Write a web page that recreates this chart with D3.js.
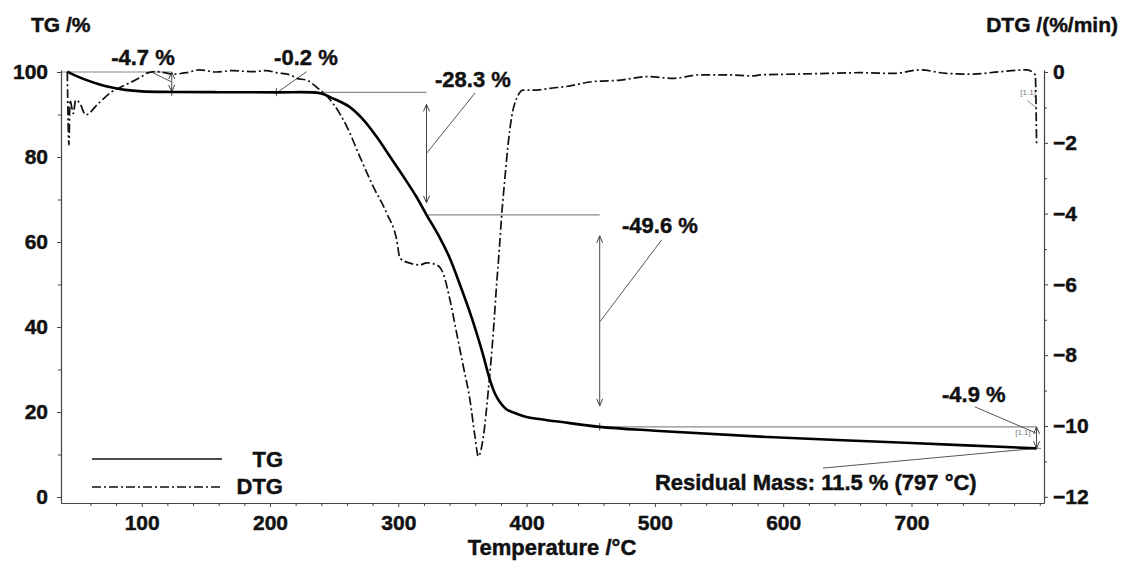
<!DOCTYPE html>
<html>
<head>
<meta charset="utf-8">
<script src="https://cdn.jsdelivr.net/npm/d3@7"></script>
<style>
  html, body { margin: 0; padding: 0; background: #fff; }
  svg text { font-family: "Liberation Sans", Arial, Helvetica, sans-serif !important; font-weight: 700 !important;
    stroke: #111; stroke-width: 0.45px; }
  svg text.thin { font-weight: 400 !important; stroke: none; }
</style>
</head>
<body>
<div id="chart"></div>
<script>
// ─── Data ─────────────────────────────────────────────────────────────────────
const tgTemp = [42, 48, 56, 66, 76, 87, 100, 123, 160, 205, 239, 249, 262, 273, 283, 293.5, 304, 314, 322, 332, 340,
  348, 357, 365, 371.5, 375.4, 379.3, 384.5, 392.3, 400, 426, 457, 500, 582, 700, 797.5];
const tgMass = [100.1, 99.2, 98.2, 97.2, 96.4, 95.8, 95.45, 95.3, 95.25, 95.2, 95.0, 93.8, 91.8, 88.7, 84.8, 80.1, 75.4, 70.7, 66.4, 61.2, 56.3,
  50.0, 42.4, 34.6, 27.5, 24.3, 22.3, 20.6, 19.6, 18.8, 17.7, 16.5, 15.6, 14.2, 12.7, 11.45];

const dtgTemp = [42, 43.3, 44.1, 45.5, 46.7, 48.5, 51.9, 56.3, 66.2, 76.6, 87, 100, 104, 111.7, 118, 124.4, 135, 145, 158, 171,
  180, 187, 197, 205, 215.6, 220.8, 228.6, 236.4, 249, 260, 270, 280.5, 291, 298.8, 301.3, 309, 317, 322, 330, 335, 340.3,
  345.5, 350.7, 355.9, 359.8, 362.4, 366.3, 370.2, 374, 376.7, 378.7, 380.6, 383.2, 385.7, 388.4, 392.3, 397.4, 407.9, 418,
  431, 452, 473, 494, 514, 535, 556, 577, 582, 608, 634, 660, 686, 707, 727, 748, 769, 790, 796.5, 797.5];
const dtgRate = [0.0, -2.06, -0.79, -1.0, -1.17, -0.79, -0.89, -1.21, -0.89, -0.56, -0.37, -0.13, -0.03, 0.01, -0.02, -0.06, -0.02, 0.06, 0.0, 0.04,
  0.02, 0.01, 0.04, -0.02, -0.08, -0.18, -0.23, -0.43, -0.88, -1.55, -2.39, -3.24, -3.99, -4.75, -5.26, -5.40, -5.45, -5.39, -5.45, -5.69, -6.44,
  -7.38, -8.32, -9.27, -10.3, -10.86, -10.3, -8.98, -7.38, -5.97, -5.03, -4.04, -2.96, -2.01, -1.26, -0.74, -0.51, -0.51, -0.46,
  -0.41, -0.27, -0.23, -0.13, -0.18, -0.08, -0.08, -0.11, -0.08, -0.06, -0.04, -0.02, -0.04, 0.06, -0.04, -0.06, 0.01, 0.06, -0.08, -2.05];

const xMajor = [100, 200, 300, 400, 500, 600, 700];
const xMinor = [60, 80, 120, 140, 160, 180, 220, 240, 260, 280, 320, 340, 360, 380, 420, 440, 460, 480,
  520, 540, 560, 580, 620, 640, 660, 680, 720, 740, 760, 780, 800];
const tgMajor = [0, 20, 40, 60, 80, 100];
const tgMinor = [10, 30, 50, 70, 90];
const dtgMajor = [0, -2, -4, -6, -8, -10, -12];
const dtgMinor = [-1, -3, -5, -7, -9, -11];

// mass-loss steps
const stepStartT = [38, 205, 322, 457, 797];
const stepEndT = [123.4, 322, 457, 797.5, 797.5];
const stepLevel = [100, 95.2, 66.4, 16.5, 11.45];
const stepLabels = ["-4.7 %", "-0.2 %", "-28.3 %", "-49.6 %", "-4.9 %"];
const residualLabel = "Residual Mass: 11.5 % (797 °C)";

// ─── Chart ────────────────────────────────────────────────────────────────────
const W = 1128, H = 562;
const x = d3.scaleLinear().domain([37.1, 803.3]).range([61, 1044]);
const yTG = d3.scaleLinear().domain([-1.41, 100.47]).range([503, 70]);
const yDTG = d3.scaleLinear().domain([-12.175, 0.0565]).range([503, 70]);

const svg = d3.select("#chart").append("svg").attr("width", W).attr("height", H);

const defs = svg.append("defs");
defs.append("marker").attr("id", "arr").attr("viewBox", "-8 -4 9 8")
  .attr("refX", 0).attr("refY", 0).attr("markerWidth", 9).attr("markerHeight", 8)
  .attr("markerUnits", "userSpaceOnUse").attr("orient", "auto-start-reverse")
  .append("path").attr("d", "M-7,-3L0,0L-7,3").attr("fill", "none").attr("stroke", "#444").attr("stroke-width", 1);

const axisColor = "#444";
function styleAxis(g, size) {
  g.selectAll("path.domain").attr("stroke", axisColor).attr("stroke-width", 1.2);
  g.selectAll(".tick line").attr("stroke", axisColor);
  g.selectAll("text").attr("font-size", size).attr("fill", "#111");
}

// x axis
const gx = svg.append("g").attr("transform", "translate(0,503)")
  .call(d3.axisBottom(x).tickValues(xMajor).tickSize(4).tickSizeOuter(0).tickPadding(8).tickFormat(d3.format("d")));
styleAxis(gx, 21);
const gxm = svg.append("g").attr("transform", "translate(0,503)")
  .call(d3.axisBottom(x).tickValues(xMinor).tickSize(3).tickFormat(""));
gxm.select("path.domain").remove();
styleAxis(gxm, 0);

// left TG axis
const gl = svg.append("g").attr("transform", "translate(61,0)")
  .call(d3.axisLeft(yTG).tickValues(tgMajor).tickSize(4).tickSizeOuter(0).tickPadding(9));
styleAxis(gl, 21);
const glm = svg.append("g").attr("transform", "translate(61,0)")
  .call(d3.axisLeft(yTG).tickValues(tgMinor).tickSize(3).tickFormat(""));
glm.select("path.domain").remove();
styleAxis(glm, 0);

// right DTG axis
const gr = svg.append("g").attr("transform", "translate(1044,0)")
  .call(d3.axisRight(yDTG).tickValues(dtgMajor).tickSize(4).tickSizeOuter(0).tickPadding(5));
styleAxis(gr, 21);
const grm = svg.append("g").attr("transform", "translate(1044,0)")
  .call(d3.axisRight(yDTG).tickValues(dtgMinor).tickSize(3).tickFormat(""));
grm.select("path.domain").remove();
styleAxis(grm, 0);

// axis titles
svg.append("text").attr("x", 31).attr("y", 32).attr("font-size", 21).attr("fill", "#111").text("TG /%");
svg.append("text").attr("x", 1118).attr("y", 32).attr("font-size", 21).attr("fill", "#111").attr("text-anchor", "end").text("DTG /(%/min)");
svg.append("text").attr("x", 552).attr("y", 555).attr("font-size", 22).attr("fill", "#111").attr("text-anchor", "middle").text("Temperature /°C");

// ─── Annotations (behind curves) ──────────────────────────────────────────────
const ann = svg.append("g").attr("fill", "none");
const lvl = "#8a8a8a", arrowCol = "#444";
function hline(t0, t1, v) {
  ann.append("line").attr("x1", x(t0)).attr("x2", x(t1)).attr("y1", yTG(v)).attr("y2", yTG(v))
    .attr("stroke", lvl).attr("stroke-width", 1.2);
}
function varrow(t, v0, v1, inset) {
  ann.append("line").attr("x1", x(t)).attr("x2", x(t))
    .attr("y1", yTG(v0) + inset).attr("y2", yTG(v1) - inset)
    .attr("stroke", arrowCol).attr("stroke-width", 1)
    .attr("marker-start", "url(#arr)").attr("marker-end", "url(#arr)");
}
function leader(t0, v0, t1, v1) {
  ann.append("line").attr("x1", x(t0)).attr("y1", yTG(v0)).attr("x2", x(t1)).attr("y2", yTG(v1))
    .attr("stroke", "#555").attr("stroke-width", 1);
}
function mark(t, v) {
  ann.append("line").attr("x1", x(t)).attr("x2", x(t)).attr("y1", yTG(v) - 4).attr("y2", yTG(v) + 4)
    .attr("stroke", "#555").attr("stroke-width", 1);
}

// step 1
hline(stepStartT[0], stepEndT[0], stepLevel[0]);
varrow(stepEndT[0], stepLevel[0], 95.3, 0);
mark(stepEndT[0], 95.3);
leader(108.8, 99.8, 123.4, 97.65);
// step 2
mark(stepStartT[1], 95.25);
leader(228.6, 100.07, 206.5, 95.36);
// step 3
hline(stepStartT[1], stepEndT[1], stepLevel[1]);
varrow(stepStartT[2], stepLevel[1], stepLevel[2], 12);
leader(359.8, 95.06, 322.1, 80.9);
// step 4
hline(stepStartT[2], stepEndT[2], stepLevel[2]);
varrow(stepStartT[3], stepLevel[2], stepLevel[3], 21);
mark(stepStartT[3], stepLevel[3]);
leader(505.3, 60.5, 457.2, 41.25);
// step 5
hline(stepStartT[3], stepEndT[3], stepLevel[3]);
varrow(stepEndT[4], stepLevel[3], stepLevel[4], 0);
leader(749.5, 21.2, 797, 15.06);
hline(794, 801, stepLevel[4]);
// residual
leader(631, 6.8, 797.5, 11.45);

// small step tags
svg.append("text").attr("class", "thin").attr("x", x(793)).attr("y", yTG(14.6)).attr("font-size", 8)
  .attr("fill", "#777").attr("text-anchor", "end").text("[1.1]");
svg.append("text").attr("class", "thin").attr("x", x(797)).attr("y", yDTG(-0.66)).attr("font-size", 8)
  .attr("fill", "#777").attr("text-anchor", "end").text("[1.1]");
ann.append("line").attr("x1", x(790)).attr("y1", yDTG(-0.8)).attr("x2", x(797)).attr("y2", yDTG(-1.0))
  .attr("stroke", "#777").attr("stroke-width", 0.8);

// ─── Curves ───────────────────────────────────────────────────────────────────
const tgData = tgTemp.map((t, i) => ({ t, v: tgMass[i] }));
const dtgData = dtgTemp.map((t, i) => ({ t, v: dtgRate[i] }));

svg.append("path").datum(dtgData).attr("fill", "none")
  .attr("stroke", "#111").attr("stroke-width", 1.7).attr("stroke-dasharray", "9,3,2,3")
  .attr("d", d3.line().x((d) => x(d.t)).y((d) => yDTG(d.v)).curve(d3.curveMonotoneX));

svg.append("path").datum(tgData).attr("fill", "none")
  .attr("stroke", "#000").attr("stroke-width", 2.6)
  .attr("d", d3.line().x((d) => x(d.t)).y((d) => yTG(d.v)).curve(d3.curveCatmullRom.alpha(0.5)));

// ─── Labels ───────────────────────────────────────────────────────────────────
const lab = svg.append("g").attr("font-size", 22).attr("fill", "#111");
lab.append("text").attr("x", x(101)).attr("y", yTG(101.65)).attr("text-anchor", "middle").text(stepLabels[0]);
lab.append("text").attr("x", x(228)).attr("y", yTG(101.65)).attr("text-anchor", "middle").text(stepLabels[1]);
lab.append("text").attr("x", x(328.6)).attr("y", yTG(96.5)).text(stepLabels[2]);
lab.append("text").attr("x", x(474.4)).attr("y", yTG(62.1)).text(stepLabels[3]);
lab.append("text").attr("x", x(723.8)).attr("y", yTG(22.35)).text(stepLabels[4]);
lab.append("text").attr("x", x(500)).attr("y", yTG(1.65)).text(residualLabel);

// ─── Legend ───────────────────────────────────────────────────────────────────
const leg = svg.append("g");
leg.append("line").attr("x1", 92).attr("x2", 222).attr("y1", 459).attr("y2", 459)
  .attr("stroke", "#111").attr("stroke-width", 1.3);
leg.append("line").attr("x1", 92).attr("x2", 222).attr("y1", 487).attr("y2", 487)
  .attr("stroke", "#111").attr("stroke-width", 1.3).attr("stroke-dasharray", "9,3,2,3");
leg.append("text").attr("x", 283).attr("y", 467).attr("text-anchor", "end").attr("font-size", 22).attr("fill", "#111").text("TG");
leg.append("text").attr("x", 283).attr("y", 494).attr("text-anchor", "end").attr("font-size", 22).attr("fill", "#111").text("DTG");
</script>
</body>
</html>
